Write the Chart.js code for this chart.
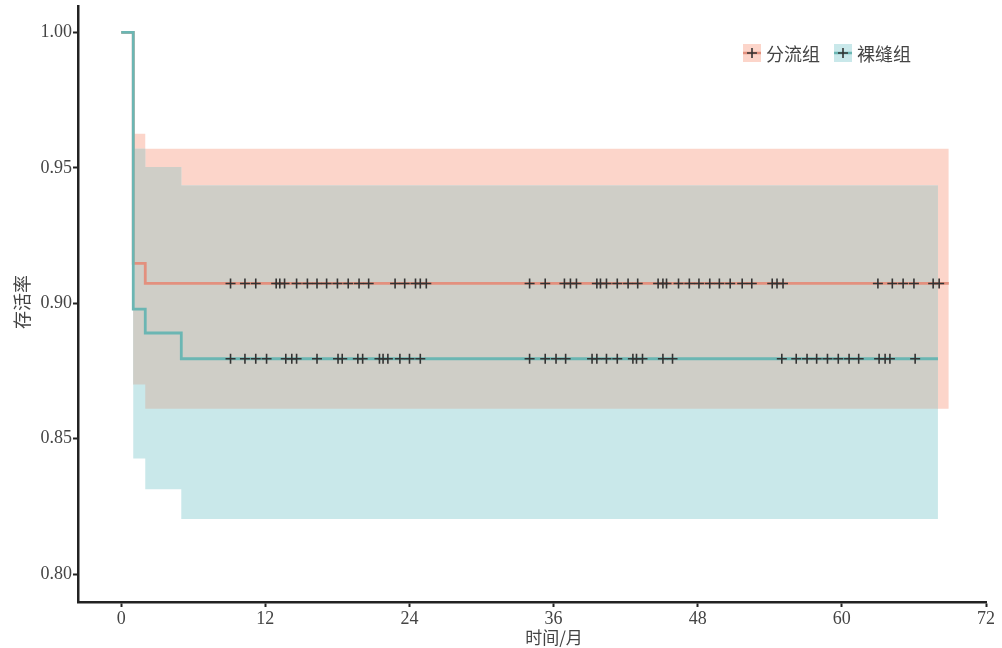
<!DOCTYPE html>
<html>
<head>
<meta charset="utf-8">
<script src="https://cdn.jsdelivr.net/npm/chart.js@4.4.0/dist/chart.umd.min.js"></script>
<style>
  body { margin: 0; background: #fff; }
  canvas { display: block; }
</style>
</head>
<body>
<canvas id="kmChart" width="1002" height="648"></canvas>
<script>
document.addEventListener('DOMContentLoaded', function () {

    var groups = ['分流组', '裸缝组'];

    // 分流组: step times (months), survival and confidence band
    var shuntTimes = [0, 1, 2, 68.9];
    var shuntSurv  = [1, 0.9147, 0.9073, 0.9073];
    var shuntUpper = [1, 0.9626, 0.957, 0.957];
    var shuntLower = [1, 0.870, 0.861, 0.861];

    // 裸缝组
    var sutureTimes = [0, 1, 2, 5, 68];
    var sutureSurv  = [1, 0.8978, 0.889, 0.8795, 0.8795];
    var sutureUpper = [1, 0.957, 0.9503, 0.9435, 0.9435];
    var sutureLower = [1, 0.8427, 0.8313, 0.8203, 0.8203];

    // censored times
    var shuntCensor = [9.1, 10.3, 11.2, 12.9, 13.2, 13.6, 14.6, 15.5, 16.3, 17.1, 18.0, 18.9, 19.8, 20.6,
        22.8, 23.6, 24.5, 24.9, 25.4, 34.0, 35.3, 36.9, 37.4, 37.9, 39.6, 39.9, 40.4, 41.3, 42.2, 43.0,
        44.7, 45.1, 45.4, 46.4, 47.3, 48.1, 49.0, 49.8, 50.7, 51.7, 52.5, 54.2, 54.6, 55.1,
        63.0, 64.2, 65.1, 66.0, 67.6, 68.1];
    var sutureCensor = [9.1, 10.3, 11.2, 12.1, 13.7, 14.2, 14.6, 16.3, 18.05, 18.4, 19.7, 20.1, 21.5, 21.8,
        22.2, 23.2, 24.0, 24.9, 34.0, 35.3, 36.2, 37.0, 39.2, 39.6, 40.4, 41.3, 42.6, 42.9, 43.4, 45.1,
        45.9, 55.0, 56.2, 57.1, 57.9, 58.8, 59.7, 60.6, 61.4, 63.1, 63.6, 64.0, 66.1];

    var xTicks = [0, 12, 24, 36, 48, 60, 72];
    var yTicks = [0.80, 0.85, 0.90, 0.95, 1.00];

    var colors = {
        shuntLine: '#E3907E', sutureLine: '#6BB6B3',
        shuntBand: '#FCD5CA', sutureBand: '#C9E8EA', overlap: '#CFCEC7',
        censor: '#333333'
    };

    function stepValue(times, vals, t) {
        var v = vals[0];
        for (var i = 0; i < times.length; i++) {
            if (times[i] <= t) v = vals[i];
        }
        return v;
    }

    function toPoints(times, vals) {
        return times.map(function (t, i) { return {x: t, y: vals[i]}; });
    }

    // overlap of the two bands
    var endT = Math.min(shuntTimes[shuntTimes.length - 1], sutureTimes[sutureTimes.length - 1]);
    var overlapTimes = shuntTimes.concat(sutureTimes).filter(function (t, i, a) {
        return t <= endT && a.indexOf(t) === i;
    }).sort(function (a, b) { return a - b; });
    if (overlapTimes[overlapTimes.length - 1] !== endT) overlapTimes.push(endT);
    var overlapUpper = overlapTimes.map(function (t) {
        return Math.min(stepValue(shuntTimes, shuntUpper, t), stepValue(sutureTimes, sutureUpper, t));
    });
    var overlapLower = overlapTimes.map(function (t) {
        return Math.max(stepValue(shuntTimes, shuntLower, t), stepValue(sutureTimes, sutureLower, t));
    });

    function band(times, vals, color, fill, order) {
        return {
            data: toPoints(times, vals), stepped: 'before', borderWidth: 0, pointRadius: 0,
            backgroundColor: color, fill: fill, order: order
        };
    }

    function censor(times, survTimes, surv) {
        return {
            type: 'scatter',
            data: times.map(function (t) { return {x: t, y: stepValue(survTimes, surv, t)}; }),
            showLine: false, pointStyle: 'cross', pointRadius: 5, pointBorderWidth: 1.6,
            borderColor: colors.censor, pointBorderColor: colors.censor, order: 0
        };
    }

    var serif = '"Liberation Serif", "Times New Roman", serif';
    var cjk = '"Noto Sans CJK SC", sans-serif';

    // axis titles + legend
    var decorPlugin = {
        id: 'decor',
        afterDraw: function (chart) {
            var ctx = chart.ctx;
            ctx.save();
            ctx.fillStyle = '#444';
            ctx.font = '17px ' + cjk;
            ctx.textAlign = 'center';
            ctx.textBaseline = 'middle';
            ctx.fillText('时间/月', 554, 638);
            ctx.save();
            ctx.translate(22, 302);
            ctx.rotate(-Math.PI / 2);
            ctx.font = '18px ' + cjk;
            ctx.fillText('存活率', 0, 0);
            ctx.restore();

            var items = [
                {x: 743, band: colors.shuntBand, line: colors.shuntLine},
                {x: 834, band: colors.sutureBand, line: colors.sutureLine}
            ];
            items.forEach(function (it, i) {
                ctx.fillStyle = it.band;
                ctx.fillRect(it.x, 44, 18, 18);
                ctx.strokeStyle = it.line;
                ctx.lineWidth = 2.5;
                ctx.beginPath();
                ctx.moveTo(it.x, 53); ctx.lineTo(it.x + 18, 53);
                ctx.stroke();
                ctx.strokeStyle = colors.censor;
                ctx.lineWidth = 1.6;
                ctx.beginPath();
                ctx.moveTo(it.x + 4, 53); ctx.lineTo(it.x + 14, 53);
                ctx.moveTo(it.x + 9, 48); ctx.lineTo(it.x + 9, 58);
                ctx.stroke();
                ctx.fillStyle = '#444';
                ctx.font = '18px ' + cjk;
                ctx.textAlign = 'left';
                ctx.fillText(groups[i], it.x + 23, 54);
            });
            ctx.restore();
        }
    };

    new Chart(document.getElementById('kmChart'), {
        type: 'line',
        data: {
            datasets: [
                band(shuntTimes, shuntUpper, colors.shuntBand, 1, 5),
                band(shuntTimes, shuntLower, colors.shuntBand, false, 5),
                band(sutureTimes, sutureUpper, colors.sutureBand, 3, 4),
                band(sutureTimes, sutureLower, colors.sutureBand, false, 4),
                band(overlapTimes, overlapUpper, colors.overlap, 5, 3),
                band(overlapTimes, overlapLower, colors.overlap, false, 3),
                {
                    label: groups[0], data: toPoints(shuntTimes, shuntSurv), stepped: 'before',
                    borderColor: colors.shuntLine, borderWidth: 2.8, pointRadius: 0, fill: false, order: 2
                },
                {
                    label: groups[1], data: toPoints(sutureTimes, sutureSurv), stepped: 'before',
                    borderColor: colors.sutureLine, borderWidth: 2.8, pointRadius: 0, fill: false, order: 1
                },
                censor(shuntCensor, shuntTimes, shuntSurv),
                censor(sutureCensor, sutureTimes, sutureSurv)
            ]
        },
        options: {
            responsive: false,
            animation: false,
            layout: { padding: {left: 0, right: 16, top: 3, bottom: 0} },
            plugins: {
                legend: { display: false },
                tooltip: { enabled: false }
            },
            scales: {
                x: {
                    type: 'linear', min: -3.6, max: 72,
                    grid: { drawOnChartArea: false, tickLength: 5, tickColor: '#222', tickWidth: 2 },
                    border: { color: '#222', width: 2.5 },
                    ticks: { color: '#444', font: {family: serif, size: 18}, padding: 1 },
                    afterBuildTicks: function (scale) {
                        scale.ticks = xTicks.map(function (v) { return {value: v}; });
                    },
                    afterFit: function (scale) {
                        scale.height = 46;
                        scale.paddingLeft = 0; scale.paddingRight = 0;
                    }
                },
                y: {
                    min: 0.7897, max: 1.0095,
                    grid: { drawOnChartArea: false, tickLength: 5, tickColor: '#222', tickWidth: 2 },
                    border: { color: '#222', width: 2.5 },
                    ticks: {
                        color: '#444', font: {family: serif, size: 18}, padding: 1,
                        callback: function (v) { return v.toFixed(2); }
                    },
                    afterBuildTicks: function (scale) {
                        scale.ticks = yTicks.map(function (v) { return {value: v}; });
                    },
                    afterFit: function (scale) {
                        scale.width = 78;
                        scale.paddingTop = 0; scale.paddingBottom = 0;
                    }
                }
            }
        },
        plugins: [decorPlugin]
    });

});
</script>
</body>
</html>
